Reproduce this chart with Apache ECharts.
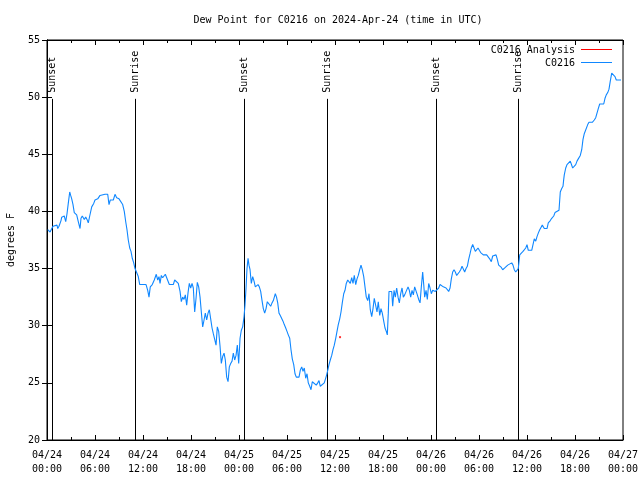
<!DOCTYPE html>
<html>
<head>
<meta charset="utf-8">
<script src="https://cdn.jsdelivr.net/npm/echarts@6/dist/echarts.min.js"></script>
<style>html,body{margin:0;padding:0;background:#fff}#c{width:640px;height:480px}</style>
</head>
<body>
<div id="c"></div>
<script>
// hours since 2024-04-24 00:00 UTC
var hours = [0.09,0.38,0.59,0.75,1.0,1.25,1.34,1.5,1.75,1.84,2.16,2.34,2.5,2.66,2.84,2.96,3.09,3.25,3.41,3.71,3.91,4.13,4.25,4.41,4.66,4.84,5.0,5.16,5.34,5.59,5.84,6.0,6.34,6.63,6.84,7.25,7.59,7.75,7.91,8.09,8.29,8.5,8.71,9.0,9.25,9.46,9.66,9.84,10.0,10.16,10.34,10.5,10.66,10.84,11.0,11.25,11.41,11.59,12.04,12.38,12.59,12.75,12.91,13.16,13.41,13.66,13.84,14.0,
14.13,14.29,14.46,14.63,14.79,15.04,15.29,15.79,15.96,16.21,16.41,16.63,16.79,16.96,17.13,17.29,17.46,17.63,17.79,17.96,18.13,18.29,18.46,18.63,18.79,18.96,19.13,19.29,19.46,19.63,19.79,19.96,20.13,20.29,20.46,20.63,20.79,20.96,21.13,21.29,21.46,21.63,21.79,21.96,22.13,22.29,22.46,22.63,22.79,22.96,23.13,23.29,23.46,23.63,23.79,23.96,24.13,24.29,24.46,24.63,24.75,24.88,25.0,25.13,25.25,25.38,25.54,25.71,25.88,26.04,26.21,26.38,26.54,26.71,26.88,27.04,27.21,27.38,27.54,27.79,27.96,28.13,28.29,28.54,28.69,28.84,29.0,29.16,29.34,29.5,29.66,29.84,30.0,30.16,30.34,30.5,30.66,30.84,31.0,31.16,31.5,31.66,31.84,32.0,32.16,32.34,32.5,32.66,32.84,33.0,33.16,33.41,33.66,33.84,34.0,34.16,34.41,34.66,34.84,34.96,35.09,35.25,35.41,35.59,35.75,35.91,36.09,36.25,36.41,36.59,36.75,36.91,37.09,37.25,37.41,37.59,37.75,37.91,38.09,38.25,38.41,38.59,38.75,38.91,39.09,39.25,39.41,39.59,39.75,39.91,40.09,40.25,40.41,40.59,40.75,40.91,41.09,41.25,41.41,41.59,41.75,41.91,42.09,42.25,42.41,42.54,42.66,42.75,43.09,43.21,43.38,43.54,43.71,43.88,44.04,44.21,44.38,44.54,44.71,44.96,45.13,45.29,45.46,45.63,45.79,45.96,46.13,46.29,46.46,46.63,46.79,46.96,47.09,47.21,47.38,47.54,47.71,47.88,48.04,48.21,48.38,48.54,48.71,48.96,49.13,49.38,49.54,49.71,49.88,50.04,50.21,50.38,50.54,50.71,50.88,51.04,51.21,51.38,51.54,51.71,51.88,52.04,52.21,52.38,52.54,52.71,52.88,53.04,53.21,53.38,53.54,53.71,53.88,54.04,54.21,54.38,54.54,54.96,55.21,55.38,55.54,55.71,55.88,56.13,56.29,56.46,56.63,56.79,56.96,57.13,57.29,57.59,57.84,58.09,58.25,58.41,58.59,58.75,58.91,59.09,59.25,59.5,59.66,59.84,60.0,60.16,60.59,60.75,60.91,61.09,61.25,61.41,61.59,61.75,61.91,62.09,62.16,62.5,62.66,62.91,63.09,63.34,63.5,63.75,64.0,64.09,64.16,64.34,64.5,64.59,64.66,64.84,65.0,65.25,65.41,65.59,65.71,65.91,66.09,66.25,66.41,66.66,66.84,67.0,67.16,67.41,67.59,67.75,68.16,68.41,68.59,68.75,68.91,69.09,69.59,69.75,69.91,70.09,70.25,70.41,70.59,70.84,71.0,71.16,71.75];

var dewpoint = [38.4,38.2,38.1,38.7,38.7,38.8,38.5,38.7,39.2,39.5,39.6,39.1,39.8,40.7,41.7,41.4,41.1,40.6,39.9,39.7,39.1,38.5,39.4,39.6,39.3,39.5,39.3,39.0,39.6,40.4,40.7,41.0,41.1,41.4,41.5,41.5,41.5,40.6,41.0,40.9,41.0,41.5,41.2,41.1,41.0,40.6,40.0,39.1,38.4,37.5,36.8,36.5,35.9,35.5,35.0,34.9,34.3,33.6,33.6,33.6,33.1,32.5,33.4,33.6,34.0,34.5,34.0,34.3,
33.7,34.4,34.2,34.3,34.5,34.4,33.6,33.6,34.0,33.9,33.7,33.0,32.1,32.5,32.3,32.7,31.8,32.9,33.7,33.3,33.7,33.3,31.2,32.4,33.8,33.4,32.5,31.2,29.9,30.5,31.1,30.5,31.1,31.4,30.6,29.8,29.3,28.8,28.3,29.9,29.5,28.2,26.7,27.3,27.6,27.0,25.5,25.1,26.4,26.7,26.9,27.6,27.0,27.4,28.3,26.7,28.9,29.6,29.9,30.8,31.8,33.3,35.0,35.9,35.3,34.9,33.7,34.3,33.9,33.4,33.4,33.6,33.4,33.0,32.2,31.5,31.1,31.5,32.1,32.1,31.7,32.0,32.2,32.8,32.5,32.0,31.1,30.9,30.8,30.4,30.1,29.8,29.5,29.2,28.9,27.9,27.1,26.6,25.8,25.5,25.5,26.1,26.4,26.0,26.3,25.4,25.8,25.0,24.7,24.4,25.1,25.0,24.8,25.0,25.2,24.7,24.8,25.0,25.1,25.7,26.1,26.6,27.0,27.4,27.9,28.3,28.9,29.5,30.1,30.6,31.2,32.0,32.8,33.1,33.7,34.0,34.1,33.7,34.2,33.7,34.4,33.6,34.1,34.4,34.9,35.3,34.9,34.3,33.4,32.5,32.2,32.8,31.4,30.8,31.5,32.4,32.5,31.2,32.1,30.9,31.5,31.1,30.4,29.8,29.5,29.2,31.1,33.0,33.0,31.7,33.1,32.5,33.3,32.5,32.0,32.8,33.3,32.5,32.7,32.6,33.4,33.1,32.5,33.1,32.7,33.4,33.3,32.7,32.3,32.0,33.4,34.7,33.6,32.5,33.1,32.3,33.7,33.3,32.8,33.1,33.2,33.0,33.1,33.3,33.6,33.7,33.4,33.5,33.3,33.4,33.0,33.3,34.1,34.7,34.9,34.7,34.4,34.4,34.7,34.9,35.2,35.2,34.7,35.0,35.2,35.8,36.3,36.8,37.1,36.8,36.5,36.6,36.8,36.6,36.4,36.3,36.2,36.2,36.1,35.8,35.6,36.1,36.2,36.2,35.8,35.3,35.2,35.1,34.9,35.0,35.1,35.3,35.4,35.5,35.3,34.9,34.7,34.6,35.0,36.2,36.3,36.5,36.6,36.8,37.1,36.6,36.6,37.1,37.6,37.4,37.8,38.1,38.4,38.6,38.8,38.9,38.5,38.5,39.0,39.2,39.4,39.6,39.9,40.0,40.1,41.0,41.7,42.0,42.2,42.8,43.2,43.8,44.1,44.2,44.4,44.4,43.8,43.7,44.1,44.4,44.6,44.9,45.4,46.3,46.8,46.8,47.6,47.8,47.8,48.0,48.2,48.6,49.0,49.4,49.4,49.9,50.2,50.4,50.7,51.4,52.1,52.0,51.8,51.5,51.5];

var analysisHours = [36.63];
var analysisValues = [29.0];

var sunHours = [0.66, 11.0, 24.65, 34.95, 48.67, 58.93];
var sunLabels = ['Sunset', 'Sunrise', 'Sunset', 'Sunrise', 'Sunset', 'Sunrise'];

var xTickLabels = ['04/24\n00:00','04/24\n06:00','04/24\n12:00','04/24\n18:00','04/25\n00:00','04/25\n06:00','04/25\n12:00','04/25\n18:00','04/26\n00:00','04/26\n06:00','04/26\n12:00','04/26\n18:00','04/27\n00:00'];

var titleText = 'Dew Point for C0216 on 2024-Apr-24 (time in UTC)';
var FONT = 'DejaVu Sans Mono';
var BLUE = '#0f87ff';

var chart = echarts.init(document.getElementById('c'), null, {renderer: 'canvas'});

var mainData = hours.map(function (h, i) { return [h, dewpoint[i]]; });
var anaData = analysisHours.map(function (h, i) { return [h, analysisValues[i]]; });
var sunData = sunHours.map(function (h, i) { return [h, i]; });

var tickCommon = {show: true, inside: true, length: 5, lineStyle: {color: '#000', width: 1}};
var minorCommon = {show: true, splitNumber: 2, length: 3, lineStyle: {color: '#000', width: 1}};

var option = {
  animation: false,
  backgroundColor: '#fff',
  title: {
    text: titleText, left: 333, top: 10, textAlign: 'center',
    textStyle: {fontFamily: FONT, fontSize: 10, fontWeight: 'normal', color: '#000'}
  },
  grid: {left: 47, right: 17, top: 40, bottom: 40, containLabel: false, outerBoundsMode: 'none',
    show: true, borderColor: '#000', borderWidth: 1, backgroundColor: 'transparent'},
  xAxis: [{
    type: 'value', min: 0, max: 72, interval: 6, position: 'bottom',
    axisLine: {show: true, lineStyle: {color: '#000'}},
    axisTick: tickCommon, minorTick: minorCommon,
    splitLine: {show: false},
    axisLabel: {
      fontFamily: FONT, fontSize: 10, color: '#000', margin: 8, lineHeight: 14,
      formatter: function (v) { return xTickLabels[Math.round(v / 6)]; }
    }
  }, {
    type: 'value', min: 0, max: 72, interval: 6, position: 'top',
    axisLine: {show: true, lineStyle: {color: '#000'}},
    axisTick: tickCommon, minorTick: minorCommon,
    splitLine: {show: false}, axisLabel: {show: false}
  }],
  yAxis: [{
    type: 'value', min: 20, max: 55, interval: 5, position: 'left',
    name: 'degrees F', nameLocation: 'middle', nameGap: 31, nameRotate: 90,
    nameTextStyle: {fontFamily: FONT, fontSize: 10, color: '#000'},
    axisLine: {show: true, lineStyle: {color: '#000'}},
    axisTick: tickCommon, splitLine: {show: false},
    axisLabel: {fontFamily: FONT, fontSize: 10, color: '#000', margin: 7}
  }, {
    type: 'value', min: 20, max: 55, interval: 5, position: 'right',
    axisLine: {show: true, lineStyle: {color: '#000'}},
    axisTick: tickCommon, splitLine: {show: false}, axisLabel: {show: false}
  }],
  series: [{
    type: 'custom', name: 'sun', xAxisIndex: 0, yAxisIndex: 0, z: 1,
    data: sunData, clip: false,
    renderItem: function (params, api) {
      var h = api.value(0);
      var idx = api.value(1);
      var p0 = api.coord([h, 20]);
      var p1 = api.coord([h, 49.85]);
      var x = Math.round(p0[0]) + 0.5;
      return {
        type: 'group',
        children: [{
          type: 'line',
          shape: {x1: x, y1: p0[1], x2: x, y2: p1[1]},
          style: {stroke: '#000', lineWidth: 1}
        }, {
          type: 'text',
          x: x, y: p1[1] - 6,
          rotation: Math.PI / 2,
          style: {text: sunLabels[idx], fontFamily: FONT, fontSize: 10, fill: '#000', align: 'left', verticalAlign: 'middle'}
        }]
      };
    }
  }, {
    type: 'line', name: 'C0216', xAxisIndex: 0, yAxisIndex: 0, z: 3,
    data: mainData, showSymbol: false, symbol: 'none',
    lineStyle: {color: BLUE, width: 1.1}, itemStyle: {color: BLUE}
  }, {
    type: 'scatter', name: 'C0216 Analysis', xAxisIndex: 0, yAxisIndex: 0, z: 4,
    data: anaData, symbol: 'rect', symbolSize: 2,
    itemStyle: {color: '#ff0000'}
  }],
  graphic: [
    {type: 'text', x: 575, y: 50, style: {text: 'C0216 Analysis', fontFamily: FONT, fontSize: 10, fill: '#000', align: 'right', verticalAlign: 'middle'}},
    {type: 'line', shape: {x1: 581, y1: 49.5, x2: 612, y2: 49.5}, style: {stroke: '#ff0000', lineWidth: 1}},
    {type: 'text', x: 575, y: 63, style: {text: 'C0216', fontFamily: FONT, fontSize: 10, fill: '#000', align: 'right', verticalAlign: 'middle'}},
    {type: 'line', shape: {x1: 581, y1: 62.5, x2: 612, y2: 62.5}, style: {stroke: BLUE, lineWidth: 1}}
  ]
};
chart.setOption(option);
</script>
</body>
</html>
